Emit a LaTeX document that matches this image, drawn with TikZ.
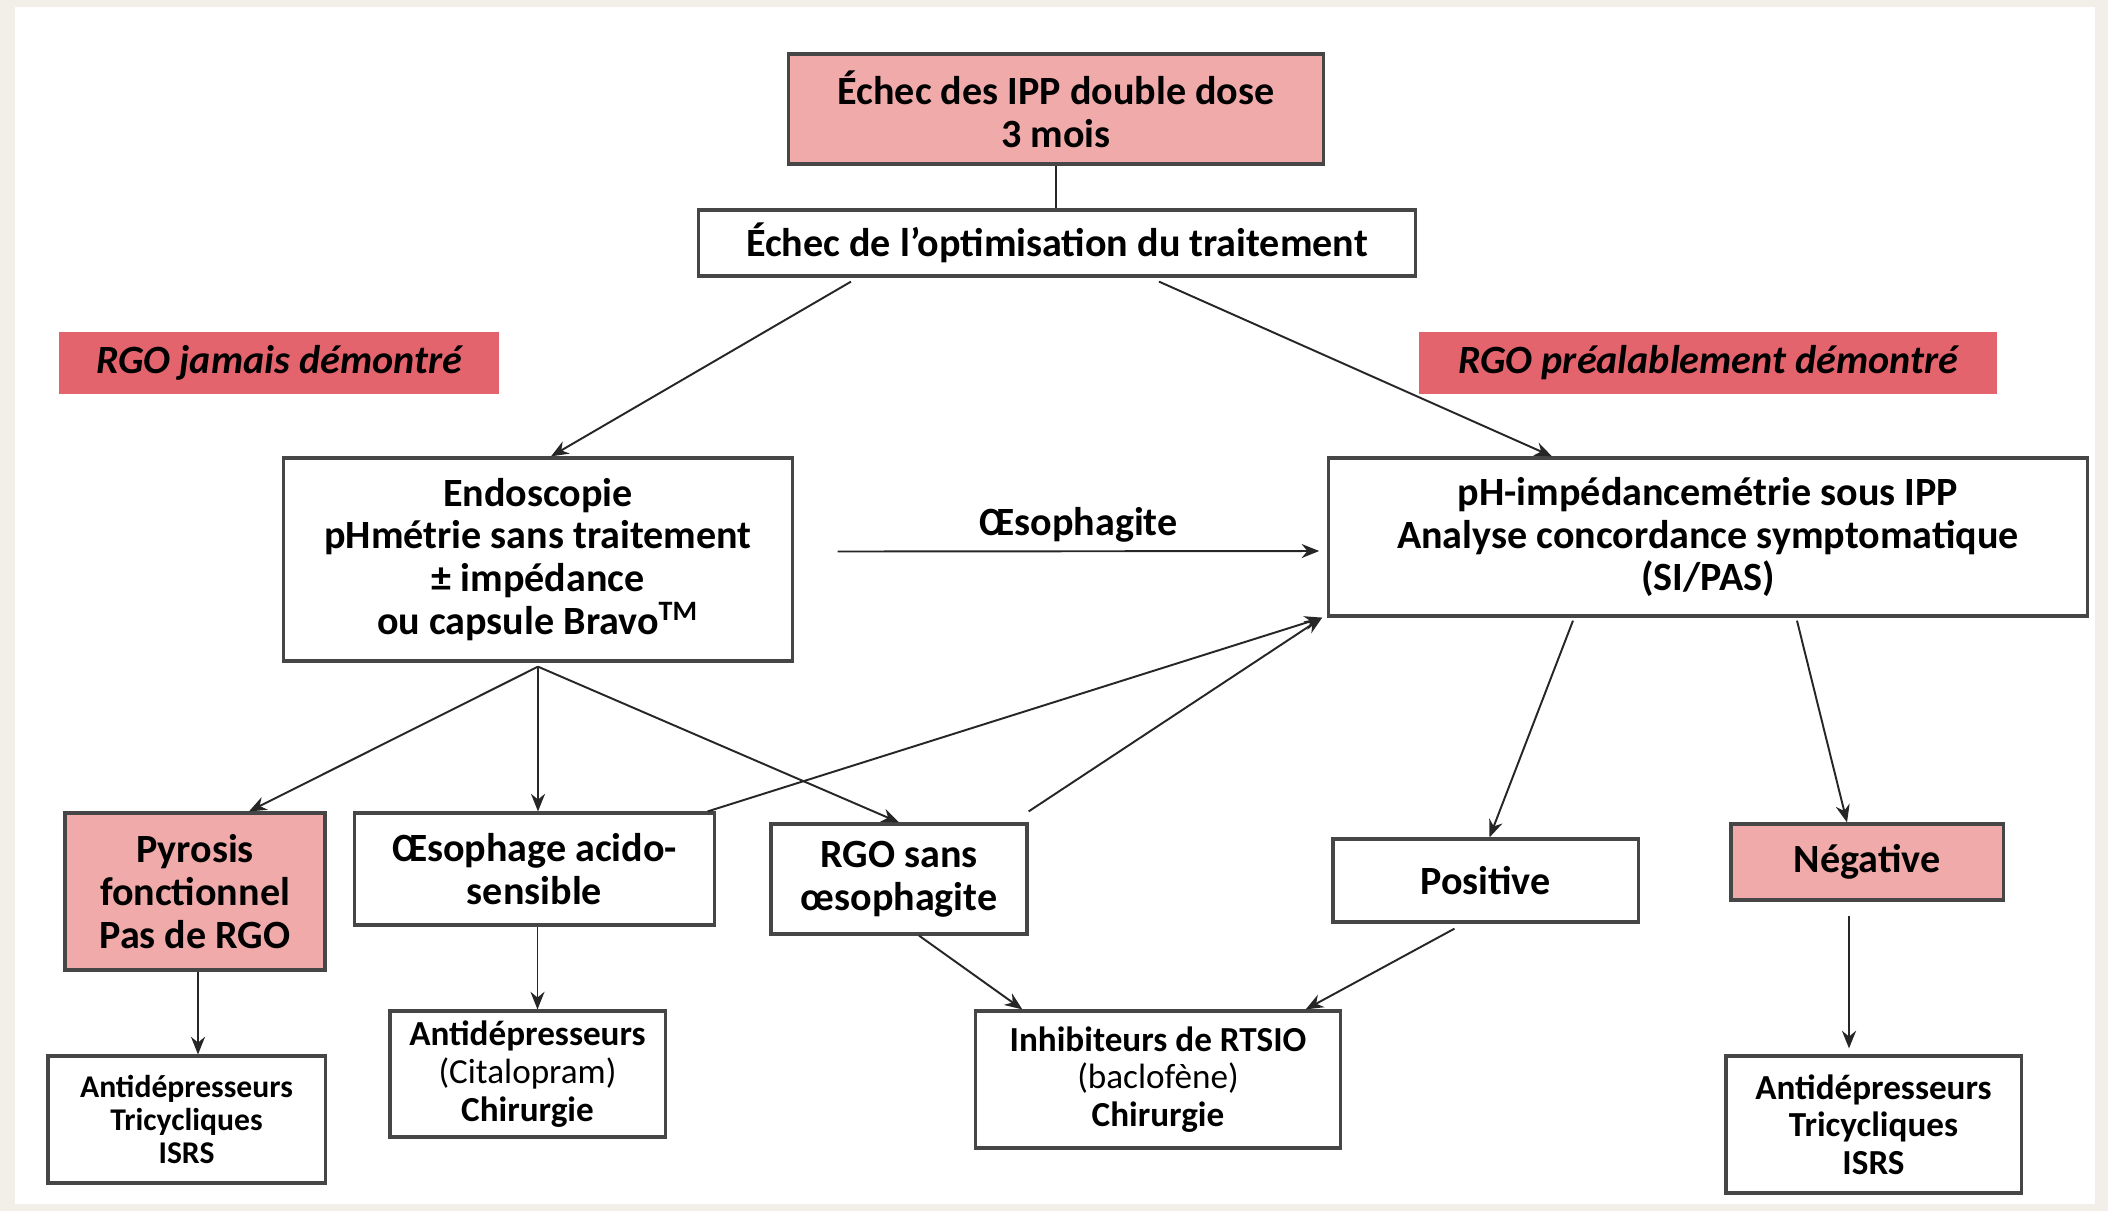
\documentclass[tikz,border=0pt]{standalone}
\usepackage{fontspec}
\setmainfont{Carlito}
\usepackage{tikz}
\usetikzlibrary{positioning,calc}
\usetikzlibrary{arrows.meta}
\definecolor{PageBeige}{RGB}{242,239,232}
\definecolor{SoftPink}{RGB}{240,170,170}
\definecolor{TagRed}{RGB}{228,100,110}
\definecolor{BoxLine}{RGB}{70,70,70}
\tikzset{
  box/.style={draw=BoxLine,line width=0.9pt,fill=white,align=center,inner sep=2pt,
    font=\fontsize{11.4}{12.2}\selectfont\bfseries},
  pinkbox/.style={box,fill=SoftPink},
  smallbox/.style={box,font=\fontsize{10}{10.7}\selectfont\bfseries},
  tinybox/.style={box,font=\fontsize{9}{9.5}\selectfont\bfseries},
  tag/.style={fill=TagRed,align=center,inner sep=2pt,
    font=\fontsize{11.4}{12.2}\selectfont\bfseries\itshape},
  arr/.style={draw=black!85,line width=0.55pt,-{Stealth[length=5pt,width=4pt]}},
  link/.style={draw=black!85,line width=0.55pt},
}

\begin{document}
\begin{tikzpicture}[x=0.01cm,y=-0.01cm]
\useasboundingbox (0,0) rectangle (2108,1211);
\fill[PageBeige] (0,0) rectangle (2108,1211);
\fill[white] (15,7) rectangle (2095,1204);
% top of the chart
\node[pinkbox,minimum width=5.34cm,minimum height=1.10cm] (ippfail) at (1056,109) {Échec des IPP double dose\\3 mois};
\node[box,minimum width=7.16cm,minimum height=0.66cm] (optim) at (1057,243) {Échec de l'optimisation du traitement};
\node[tag,minimum width=4.40cm,minimum height=0.62cm] (nevergerd) at (279,363) {RGO jamais démontré};
\node[tag,minimum width=5.78cm,minimum height=0.62cm] (knowngerd) at (1708,363) {RGO préalablement démontré};
% explorations
\node[box,minimum width=5.08cm,minimum height=2.03cm] (endo) at (538,559.5) {Endoscopie\\pHmétrie sans traitement\\± impédance\\ou capsule Bravo\textsuperscript{TM}};
\node[box,minimum width=7.58cm,minimum height=1.58cm] (phimp) at (1708,537) {pH-impédancemétrie sous IPP\\Analyse concordance symptomatique\\(SI/PAS)};
% results
\node[pinkbox,minimum width=2.60cm,minimum height=1.57cm] (pyro) at (195,891.5) {Pyrosis\\fonctionnel\\Pas de RGO};
\node[box,minimum width=3.59cm,minimum height=1.12cm] (acido) at (534.5,869) {Œsophage acido-\\sensible};
\node[box,minimum width=2.56cm,minimum height=1.10cm] (nooeso) at (899,879) {RGO sans\\œsophagite};
\node[box,minimum width=3.05cm,minimum height=0.83cm] (posi) at (1485.5,880.5) {Positive};
\node[pinkbox,minimum width=2.72cm,minimum height=0.76cm] (nega) at (1867,862) {Négative};
% treatments
\node[tinybox,minimum width=2.77cm,minimum height=1.27cm] (treatL) at (186.5,1119.5) {Antidépresseurs\\Tricycliques\\ISRS};
\node[smallbox,minimum width=2.75cm,minimum height=1.26cm] (cital) at (527.5,1074) {Antidépresseurs\\\mdseries(Citalopram)\\Chirurgie};
\node[smallbox,minimum width=3.64cm,minimum height=1.37cm] (inhib) at (1158,1079.5) {Inhibiteurs de RTSIO\\\mdseries(baclofène)\\Chirurgie};
\node[smallbox,minimum width=2.95cm,minimum height=1.37cm] (treatR) at (1873.5,1124.5) {Antidépresseurs\\Tricycliques\\ISRS};
% connectors
\draw[link] (ippfail.south) -- (ippfail.south |- optim.north);
\draw[arr] ($(optim.south)+(-206,4)$) -- ($(endo.north)+(13,0)$);
\draw[arr] ($(optim.south)+(102,4)$) -- ($(phimp.north)+(-156,0)$);
\draw[arr] ($(endo.east)+(44,-8)$) -- node[above=-1pt,font=\fontsize{11.4}{12.2}\selectfont\bfseries] (esolab) {Œsophagite} ($(phimp.west)+(-8,14)$);
\draw[arr] ($(endo.south)+(0,4)$) -- ($(pyro.north)+(54,0)$);
\draw[arr] ($(endo.south)+(0,4)$) -- (endo.south |- acido.north);
\draw[arr] ($(endo.south)+(0,4)$) -- (nooeso.north);
\draw[arr] ($(acido.north east)+(-8,0)$) -- ($(phimp.south west)+(-5,0)$);
\draw[arr] ($(nooeso.north east)+(0,-11)$) -- ($(phimp.south west)+(-5,0)$);
\draw[arr] ($(phimp.south)+(-135,3)$) -- ($(posi.north)+(4,0)$);
\draw[arr] ($(phimp.south)+(89,3)$) -- ($(nega.north)+(-20,0)$);
\draw[arr] ($(pyro.south)+(3,0)$) -- ($(pyro.south |- treatL.north)+(3,0)$);
\draw[arr] ($(acido.south)+(3,0)$) -- ($(acido.south |- cital.north)+(3,0)$);
\draw[arr] ($(nooeso.south)+(20,0)$) -- ($(inhib.north west)+(48,0)$);
\draw[arr] ($(posi.south)+(-31,5)$) -- ($(inhib.north east)+(-36,0)$);
\draw[arr] ($(nega.south)+(-18,14)$) -- ($(nega.south |- treatR.north)+(-18,-6)$);
\end{tikzpicture}
\end{document}
